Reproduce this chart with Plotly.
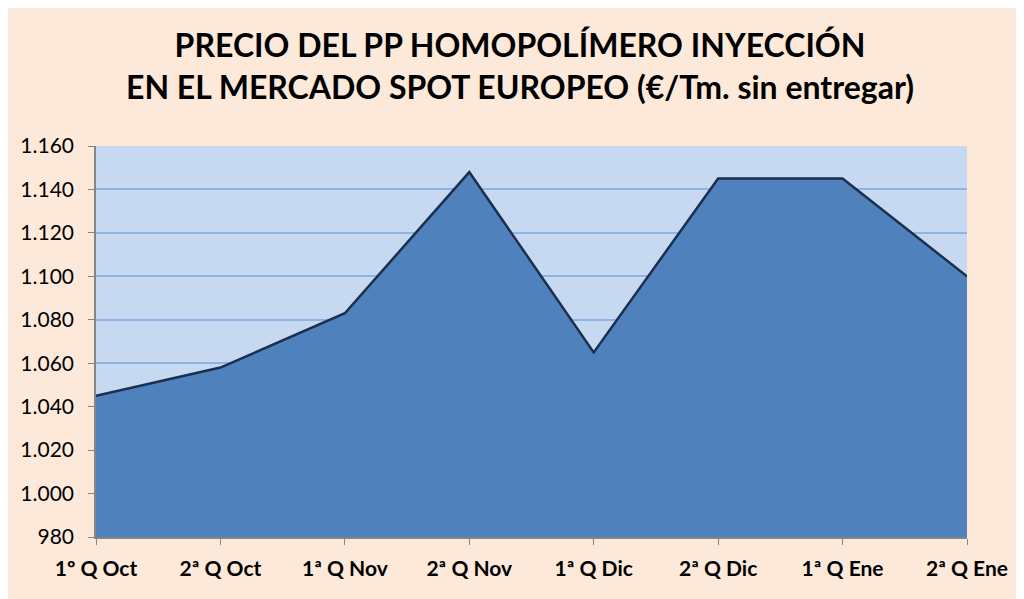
import plotly.graph_objects as go

# Quincenas and spot price (EUR/Tm)
periodos = ["1º Q Oct", "2ª Q Oct", "1ª Q Nov", "2ª Q Nov",
            "1ª Q Dic", "2ª Q Dic", "1ª Q Ene", "2ª Q Ene"]
precios = [1045, 1058, 1083, 1148, 1065, 1145, 1145, 1100]

y_ticks = list(range(980, 1161, 20))

fig = go.Figure()

fig.add_trace(go.Scatter(
    x=periodos, y=precios,
    mode="lines",
    fill="tozeroy",
    fillcolor="#4F81BD",
    line=dict(color="#1B2F4E", width=2.5),
    hoverinfo="x+y",
    showlegend=False,
))

fig.update_layout(
    width=1024, height=599,
    paper_bgcolor="#FDE9D9",
    plot_bgcolor="#C6D9F1",
    separators=",.",
    margin=dict(l=88, r=65, t=138, b=70),
    title=dict(
        text="PRECIO DEL PP HOMOPOLÍMERO INYECCIÓN<br>EN EL MERCADO SPOT EUROPEO (€/Tm. sin entregar)",
        x=0.5, xanchor="center",
        y=0.918, yanchor="top",
        font=dict(family="Lato, Open Sans, sans-serif", size=32, color="#000000", weight="bold"),
    ),
    font=dict(family="Lato, Open Sans, sans-serif", color="#000000"),
    xaxis=dict(
        type="category",
        range=[0, len(periodos) - 1],
        showgrid=False,
        showline=True, linecolor="#868686", linewidth=1.5,
        ticks="outside", ticklen=6, tickcolor="#868686",
        ticklabelstandoff=6,
        tickfont=dict(size=21, weight="bold"),
        zeroline=False,
    ),
    yaxis=dict(
        range=[980, 1160],
        tickvals=y_ticks,
        tickformat=",d",
        showgrid=True, gridcolor="#8EB4E3", gridwidth=1.5,
        showline=True, linecolor="#868686", linewidth=1.5,
        ticks="outside", ticklen=6, tickcolor="#868686",
        ticklabelstandoff=10,
        tickfont=dict(size=21),
        zeroline=False,
    ),
)

fig.write_html("out.html")
